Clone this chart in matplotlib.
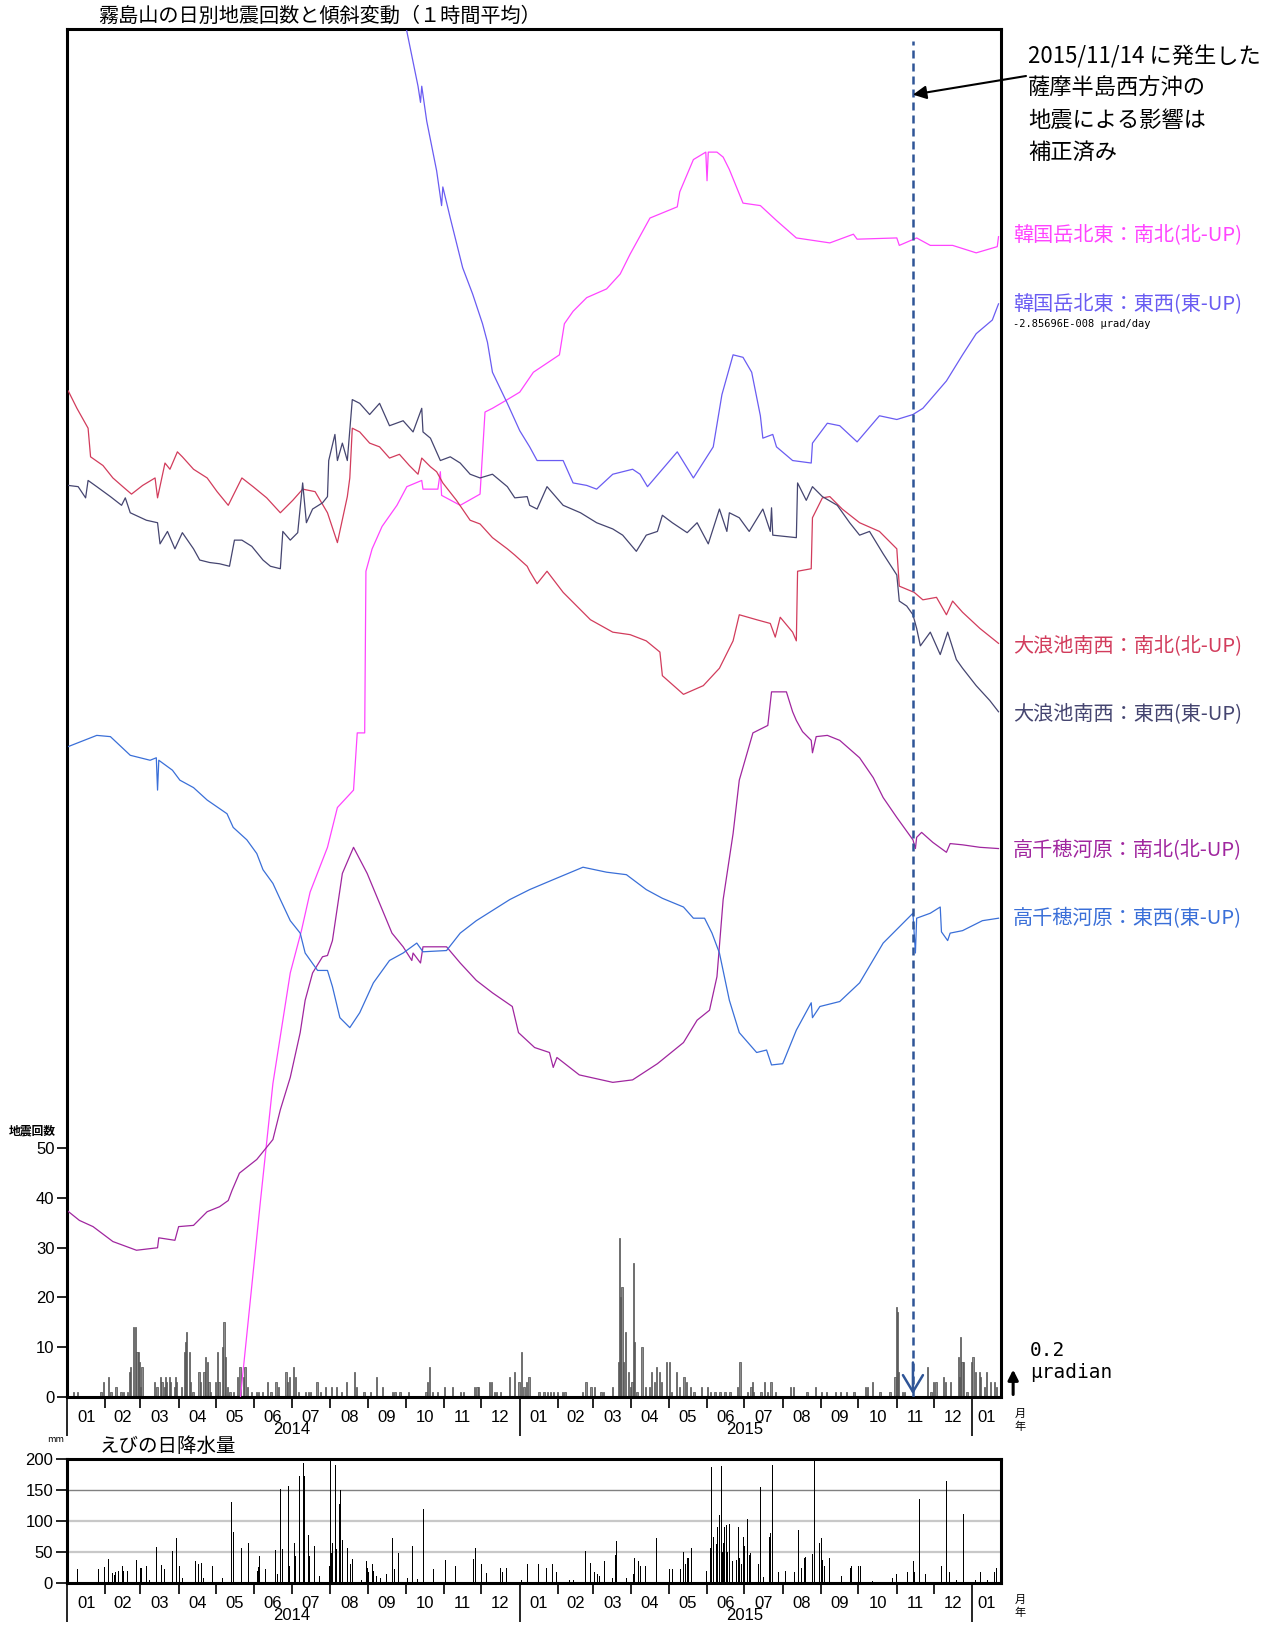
import numpy as np
import matplotlib
matplotlib.use("Agg")
import matplotlib.pyplot as plt
from matplotlib import font_manager

plt.rcParams['font.family'] = ['Noto Sans CJK JP', 'DejaVu Sans']
_names = {f.name for f in font_manager.fontManager.ttflist}
NUM_FONT = 'Liberation Sans Narrow' if 'Liberation Sans Narrow' in _names else 'Liberation Sans'
MONO = 'DejaVu Sans Mono'

# ----- Data (x = days since 2014-01-01, tilt in micro-radian) -----
karakuni_ns = np.array([
    (138, -0.18), (156, 1.58), (166, 2.52), (180, 3.41), (189, 3.75), (196, 4.06), (210, 4.42),
    (218, 4.74), (231, 4.88), (234, 5.34), (240, 5.34), (241, 6.64), (246, 6.82), (254, 7.00),
    (266, 7.17), (274, 7.32), (286, 7.37), (287, 7.30), (299, 7.30), (301, 7.44), (302, 7.25),
    (317, 7.17), (333, 7.26), (337, 7.92), (343, 7.95), (355, 8.02), (365, 8.08), (376, 8.24),
    (397, 8.38), (401, 8.63), (408, 8.73), (419, 8.84), (435, 8.91), (446, 9.03), (454, 9.19),
    (470, 9.48), (492, 9.57), (494, 9.69), (505, 9.95), (515, 10.01), (516, 9.78), (517, 10.01),
    (524, 10.01), (529, 9.97), (534, 9.87), (545, 9.60), (559, 9.58), (572, 9.46), (588, 9.32),
    (615, 9.28), (634, 9.35), (637, 9.31), (669, 9.32), (671, 9.26), (685, 9.32), (696, 9.26),
    (714, 9.26), (733, 9.20), (750, 9.25), (751, 9.33)])

karakuni_ew = np.array([
    (271, 11.15), (274, 10.98), (283, 10.54), (285, 10.41), (286, 10.54), (290, 10.26), (298, 9.86),
    (302, 9.58), (303, 9.73), (309, 9.48), (319, 9.08), (327, 8.87), (335, 8.63), (339, 8.48),
    (343, 8.24), (355, 7.99), (365, 7.77), (373, 7.64), (379, 7.53), (400, 7.53), (408, 7.35),
    (419, 7.33), (427, 7.30), (440, 7.42), (456, 7.46), (462, 7.42), (468, 7.32), (492, 7.60),
    (505, 7.39), (521, 7.64), (528, 8.06), (537, 8.38), (545, 8.36), (552, 8.24), (559, 7.89),
    (561, 7.71), (569, 7.74), (572, 7.64), (585, 7.53), (600, 7.51), (601, 7.67), (613, 7.83),
    (623, 7.81), (637, 7.68), (655, 7.89), (669, 7.86), (682, 7.90), (690, 7.95), (709, 8.17),
    (722, 8.38), (733, 8.55), (746, 8.66), (751, 8.79)])

ohnami_ns = np.array([
    (1, 8.09), (8, 7.95), (17, 7.79), (19, 7.56), (29, 7.49), (37, 7.39), (45, 7.32), (52, 7.26),
    (61, 7.33), (71, 7.39), (73, 7.23), (79, 7.51), (83, 7.46), (89, 7.60), (93, 7.56), (102, 7.46),
    (113, 7.39), (121, 7.28), (130, 7.17), (141, 7.39), (150, 7.32), (161, 7.23), (172, 7.11),
    (182, 7.21), (190, 7.30), (200, 7.28), (210, 7.11), (218, 6.87), (226, 7.24), (228, 7.39),
    (230, 7.79), (236, 7.76), (244, 7.67), (252, 7.64), (260, 7.55), (268, 7.58), (276, 7.49),
    (283, 7.42), (286, 7.55), (293, 7.48), (298, 7.44), (303, 7.35), (314, 7.21), (325, 7.05),
    (333, 7.02), (343, 6.91), (355, 6.82), (361, 6.77), (371, 6.68), (373, 6.64), (379, 6.54),
    (387, 6.64), (400, 6.47), (422, 6.25), (440, 6.15), (454, 6.13), (467, 6.08), (478, 5.99),
    (480, 5.80), (497, 5.65), (513, 5.72), (526, 5.86), (537, 6.08), (542, 6.29), (556, 6.25),
    (567, 6.22), (571, 6.11), (575, 6.27), (585, 6.15), (588, 6.08), (589, 6.64), (600, 6.66),
    (601, 7.07), (609, 7.23), (615, 7.24), (625, 7.14), (639, 7.03), (655, 6.96), (669, 6.82),
    (671, 6.52), (683, 6.47), (690, 6.41), (701, 6.43), (709, 6.29), (714, 6.40), (722, 6.31),
    (736, 6.18), (751, 6.06)])

ohnami_ew = np.array([
    (1, 7.33), (9, 7.32), (15, 7.23), (17, 7.37), (24, 7.32), (35, 7.24), (44, 7.17), (47, 7.23),
    (51, 7.11), (64, 7.05), (73, 7.03), (75, 6.86), (81, 6.96), (87, 6.82), (93, 6.95), (102, 6.82),
    (107, 6.73), (115, 6.71), (123, 6.70), (131, 6.68), (135, 6.89), (141, 6.89), (149, 6.84),
    (158, 6.73), (164, 6.68), (172, 6.66), (174, 6.96), (180, 6.89), (186, 6.95), (190, 7.35),
    (193, 7.03), (198, 7.14), (206, 7.19), (210, 7.24), (211, 7.53), (216, 7.74), (218, 7.53),
    (222, 7.67), (226, 7.53), (230, 8.02), (236, 7.99), (244, 7.90), (252, 7.99), (260, 7.81),
    (271, 7.85), (279, 7.76), (286, 7.95), (287, 7.76), (293, 7.71), (301, 7.53), (309, 7.56),
    (317, 7.51), (325, 7.42), (333, 7.39), (343, 7.42), (355, 7.32), (361, 7.23), (371, 7.24),
    (373, 7.17), (379, 7.14), (387, 7.32), (400, 7.17), (414, 7.11), (427, 7.03), (440, 6.98),
    (448, 6.93), (459, 6.80), (467, 6.93), (476, 6.96), (480, 7.09), (488, 7.03), (500, 6.95),
    (508, 7.03), (517, 6.86), (526, 7.14), (532, 6.96), (534, 7.11), (542, 7.07), (550, 6.96),
    (561, 7.14), (567, 6.96), (568, 7.15), (569, 6.93), (588, 6.91), (589, 7.35), (596, 7.21),
    (601, 7.32), (609, 7.24), (621, 7.17), (631, 7.03), (639, 6.93), (647, 6.96), (658, 6.78),
    (669, 6.61), (671, 6.40), (677, 6.36), (682, 6.29), (685, 6.18), (688, 6.04), (696, 6.15),
    (704, 5.97), (710, 6.15), (717, 5.93), (722, 5.86), (733, 5.72), (744, 5.60), (751, 5.51)])

takachiho_ns = np.array([
    (0, 1.50), (10, 1.42), (21, 1.37), (37, 1.25), (56, 1.18), (73, 1.20), (74, 1.28), (87, 1.26),
    (90, 1.37), (102, 1.38), (113, 1.49), (123, 1.53), (130, 1.58), (133, 1.66), (139, 1.80),
    (153, 1.91), (166, 2.07), (172, 2.31), (180, 2.57), (188, 2.93), (192, 3.19), (198, 3.41),
    (206, 3.54), (210, 3.55), (214, 3.67), (218, 3.94), (222, 4.21), (231, 4.42), (242, 4.21),
    (252, 3.97), (262, 3.73), (271, 3.62), (278, 3.51), (279, 3.57), (285, 3.49), (287, 3.62),
    (306, 3.62), (317, 3.49), (330, 3.35), (343, 3.25), (359, 3.14), (364, 2.93), (377, 2.81),
    (389, 2.77), (392, 2.65), (395, 2.73), (413, 2.59), (440, 2.53), (456, 2.55), (476, 2.68),
    (497, 2.85), (508, 3.03), (518, 3.11), (524, 3.38), (529, 4.00), (537, 4.53), (542, 4.96),
    (553, 5.34), (565, 5.40), (568, 5.67), (580, 5.67), (585, 5.51), (588, 5.44), (593, 5.35),
    (600, 5.28), (601, 5.18), (604, 5.31), (613, 5.32), (623, 5.28), (639, 5.14), (650, 4.98),
    (658, 4.82), (669, 4.66), (682, 4.48), (684, 4.41), (685, 4.50), (689, 4.54), (698, 4.46),
    (709, 4.38), (712, 4.45), (722, 4.44), (736, 4.42), (751, 4.41)])

takachiho_ew = np.array([
    (1, 5.23), (24, 5.32), (35, 5.31), (51, 5.16), (67, 5.12), (72, 5.14), (73, 4.88), (74, 5.12),
    (85, 5.04), (91, 4.96), (102, 4.90), (113, 4.80), (129, 4.69), (134, 4.58), (145, 4.48),
    (153, 4.37), (158, 4.24), (166, 4.13), (172, 4.00), (180, 3.83), (188, 3.73), (192, 3.57),
    (202, 3.43), (210, 3.43), (214, 3.30), (220, 3.05), (228, 2.97), (236, 3.09), (247, 3.33),
    (260, 3.51), (271, 3.57), (282, 3.65), (287, 3.58), (306, 3.59), (317, 3.73), (330, 3.83),
    (357, 4.00), (373, 4.08), (392, 4.16), (416, 4.26), (435, 4.22), (451, 4.20), (467, 4.08),
    (480, 4.01), (497, 3.94), (505, 3.85), (514, 3.85), (520, 3.73), (526, 3.57), (534, 3.19),
    (542, 2.93), (556, 2.77), (564, 2.79), (568, 2.67), (577, 2.68), (588, 2.95), (600, 3.17),
    (601, 3.05), (607, 3.14), (623, 3.18), (639, 3.33), (658, 3.65), (671, 3.78), (682, 3.89),
    (684, 3.57), (685, 3.85), (696, 3.89), (704, 3.94), (705, 3.74), (710, 3.67), (712, 3.73),
    (722, 3.75), (738, 3.83), (751, 3.85)])

# daily earthquake counts (days without an entry had none)
quake_days = [
    5, 8, 27, 29, 33, 35, 39, 43, 45, 48, 50, 51, 53, 55, 56, 57, 58, 59, 60, 70, 72, 75, 76, 78,
    79, 80, 82, 83, 86, 87, 88, 92, 94, 95, 96, 98, 99, 101, 106, 107, 110, 111, 113, 114, 115,
    119, 121, 122, 125, 126, 127, 129, 131, 134, 137, 139, 142, 143, 145, 148, 152, 154, 157,
    161, 164, 168, 170, 176, 177, 179, 182, 184, 186, 192, 194, 196, 201, 204, 208, 213, 217,
    221, 225, 231, 233, 239, 244, 249, 254, 262, 264, 268, 275, 289, 290, 292, 294, 298, 304,
    310, 317, 319, 328, 330, 331, 340, 342, 344, 346, 349, 356, 360, 364, 366, 368, 370, 372,
    380, 384, 387, 389, 392, 395, 399, 401, 415, 418, 422, 425, 430, 432, 439, 444, 445, 446,
    447, 448, 450, 452, 454, 455, 456, 457, 459, 463, 466, 469, 471, 473, 475, 477, 479, 483,
    485, 487, 491, 493, 497, 499, 502, 505, 511, 516, 518, 522, 526, 530, 534, 540, 542, 548,
    551, 552, 553, 559, 562, 564, 567, 571, 583, 585, 596, 603, 608, 612, 619, 623, 628, 634,
    643, 645, 649, 655, 663, 667, 668, 669, 670, 673, 675, 693, 696, 698, 700, 706, 708, 712,
    718, 719, 720, 721, 722, 725, 729, 730, 732, 735, 736, 739, 741, 744, 747, 749]
quake_counts = [
    1, 1, 1, 3, 4, 1, 2, 1, 1, 1, 5, 6, 14, 14, 9, 9, 7, 2, 6, 3, 2, 4, 3, 2,
    4, 3, 4, 3, 2, 4, 3, 2, 9, 11, 13, 9, 3, 1, 5, 3, 5, 8, 7, 3, 1,
    3, 9, 3, 10, 15, 8, 2, 1, 1, 4, 6, 4, 6, 2, 1, 1, 1, 1,
    3, 1, 3, 2, 5, 3, 4, 6, 4, 1, 1, 1, 1, 3, 1, 2, 2, 2,
    1, 3, 5, 2, 1, 1, 4, 2, 1, 1, 1, 1, 1, 3, 6, 1, 1, 2,
    2, 1, 1, 2, 2, 2, 3, 3, 1, 1, 1, 4, 5, 3, 9, 2, 3, 4,
    1, 1, 1, 1, 1, 1, 1, 1, 1, 3, 2, 2, 1, 1, 2, 7, 32, 20,
    22, 7, 13, 5, 2, 3, 27, 11, 1, 10, 2, 2, 5, 3, 6, 5, 3, 7,
    7, 1, 5, 2, 4, 3, 2, 1, 2, 2, 1, 1, 1, 1, 1, 2, 7, 1,
    2, 3, 1, 1, 3, 1, 3, 1, 2, 2, 1, 2, 1, 1, 1, 1, 1, 1,
    2, 2, 3, 1, 1, 4, 18, 17, 5, 1, 1, 6, 1, 3, 3, 4, 3, 3,
    8, 4, 12, 7, 7, 1, 7, 8, 5, 5, 4, 2, 5, 3, 3, 2]

# daily precipitation at Ebino (mm)
rain_days = [
    8, 20, 25, 30, 33, 36, 38, 39, 41, 44, 45, 48, 56, 59, 60, 64, 66, 72, 76, 78, 85, 88, 90, 93,
    103, 106, 108, 110, 117, 125, 132, 134, 140, 146, 153, 154, 155, 160, 168, 169, 172, 173,
    178, 179, 183, 184, 187, 190, 191, 194, 195, 199, 203, 211, 212, 213, 214, 216, 217, 219,
    220, 222, 226, 228, 230, 237, 241, 242, 243, 246, 247, 249, 252, 257, 262, 264, 267, 274,
    278, 282, 285, 287, 295, 305, 313, 327, 329, 334, 338, 349, 351, 354, 366, 371, 380, 386,
    391, 394, 405, 408, 418, 422, 425, 427, 429, 433, 439, 442, 443, 451, 456, 457, 460, 462,
    466, 475, 485, 488, 494, 497, 498, 500, 501, 503, 515, 518, 519, 521, 523, 524, 526, 527,
    528, 529, 530, 531, 532, 534, 536, 539, 541, 542, 543, 545, 546, 548, 550, 551, 557, 559,
    561, 566, 567, 568, 573, 579, 586, 589, 592, 594, 595, 601, 602, 606, 608, 609, 610, 614,
    624, 631, 632, 638, 639, 649, 665, 668, 677, 682, 683, 687, 692, 701, 705, 709, 711, 717,
    722, 732, 736, 742, 747, 749]
rain_mm = [
    23, 2, 23, 26, 38, 16, 13, 18, 20, 28, 20, 19, 37, 25, 24, 28, 5, 58, 29, 22, 52, 73, 27, 8,
    36, 30, 32, 8, 27, 8, 131, 83, 56, 64, 20, 26, 43, 22, 54, 15, 151, 55,
    157, 28, 65, 44, 172, 193, 172, 78, 44, 60, 12, 27, 210, 48, 65, 190, 55, 128,
    150, 70, 57, 30, 38, 5, 35, 25, 18, 30, 20, 12, 8, 14, 73, 22, 48, 8,
    60, 6, 197, 120, 22, 37, 28, 38, 56, 30, 16, 24, 18, 24, 5, 30, 30, 24,
    31, 18, 5, 5, 51, 32, 18, 14, 12, 35, 8, 45, 68, 8, 15, 40, 36, 27,
    28, 73, 23, 22, 23, 50, 30, 40, 40, 56, 20, 57, 187, 75, 63, 90, 110, 188,
    50, 65, 90, 93, 50, 95, 35, 37, 90, 40, 30, 75, 60, 103, 45, 48, 30, 155,
    10, 75, 80, 190, 18, 20, 18, 86, 25, 40, 42, 47, 210, 65, 72, 37, 28, 40,
    12, 25, 27, 28, 27, 3, 8, 15, 17, 35, 18, 135, 15, 33, 28, 164, 18, 5,
    111, 5, 17, 5, 17, 24]

series = [
    (karakuni_ns, '韓国岳北東：南北(北-UP)', '#ff44ff', 235),
    (karakuni_ew, '韓国岳北東：東西(東-UP)', '#6a5cf2', 304),
    (ohnami_ns, '大浪池南西：南北(北-UP)', '#d23c5c', 646),
    (ohnami_ew, '大浪池南西：東西(東-UP)', '#454570', 714),
    (takachiho_ns, '高千穂河原：南北(北-UP)', '#a0269f', 851),
    (takachiho_ew, '高千穂河原：東西(東-UP)', '#3a6fd8', 919),
]

quake_day = 682          # 2015-11-14
x_end = 753              # last day shown
tilt_top = 11.0          # micro-radian span of the tilt axis
count_top = 274.7

# ----- Figure -----
W, H = 1285, 1625
fig = plt.figure(figsize=(W / 100, H / 100), dpi=100)


def box(l, t, r, b):
    return [l / W, 1 - b / H, (r - l) / W, (b - t) / H]


def ftext(x, y, s, **kw):
    fig.text(x / W, 1 - y / H, s, **kw)


month_starts = np.arange('2014-01', '2016-02', dtype='datetime64[M]')
month_days = (month_starts.astype('datetime64[D]') - np.datetime64('2014-01-01')).astype(int)
month_ends = np.append(month_days[1:], x_end)
year_days = [d for d, m in zip(month_days, month_starts) if str(m).endswith('-01')]
minor_days = [d for d in month_days if d not in year_days]


def month_axis(a, lab_off, year_off):
    a.set_xlim(0, x_end)
    a.set_xticks(year_days)
    a.set_xticks(minor_days, minor=True)
    a.set_xticklabels([])
    a.tick_params(axis='x', which='major', direction='out', length=28, width=1.2)
    a.tick_params(axis='x', which='minor', direction='out', length=8, width=1.2)
    for d0, d1, m in zip(month_days, month_ends, month_starts):
        mid = (d0 + min(d1, x_end)) / 2
        a.annotate(str(m)[5:7], xy=(mid, 0), xycoords=('data', 'axes fraction'),
                   xytext=(0, lab_off), textcoords='offset pixels', ha='center', va='center',
                   fontsize=12, family=NUM_FONT)
    for yr, d in (('2014', 181), ('2015', 546)):
        a.annotate(yr, xy=(d, 0), xycoords=('data', 'axes fraction'),
                   xytext=(0, year_off), textcoords='offset pixels', ha='center', va='center',
                   fontsize=12, family=NUM_FONT)
    a.annotate('月', xy=(1, 0), xycoords='axes fraction', xytext=(19, lab_off + 3),
               textcoords='offset pixels', ha='center', va='center', fontsize=8)
    a.annotate('年', xy=(1, 0), xycoords='axes fraction', xytext=(19, lab_off - 10),
               textcoords='offset pixels', ha='center', va='center', fontsize=8)


# ----- Earthquake counts + tilt -----
ax = fig.add_axes(box(67, 29, 1001, 1397))
ax.bar(quake_days, quake_counts, width=1.0, align='edge', color='#8c8c8c',
       edgecolor='#4d4d4d', linewidth=0.5)
ax.set_ylim(0, count_top)
ax.set_yticks(range(0, 51, 10))
ax.tick_params(axis='y', direction='out', length=7, width=1.2, labelsize=12,
               labelfontfamily=NUM_FONT, pad=2)
for s in ax.spines.values():
    s.set_linewidth(2.2)
month_axis(ax, -20, -33)

ax2 = ax.twinx()
ax2.set_ylim(0, tilt_top)
ax2.set_yticks([])
for data, label, color, ylab in series:
    ax2.plot(data[:, 0], data[:, 1], color=color, lw=0.9)
    ftext(1013, ylab, label, color=color, fontsize=14.5, va='center', ha='left')
ftext(1013, 324, '-2.85696E-008 μrad/day', fontsize=7.5, family=MONO, va='center')

# earthquake marker line and note
ax2.axvline(quake_day, ymin=0, ymax=0.991, color='#2f5597', lw=1.8, ls=(0, (3.2, 2.0)))
ax2.annotate('', xy=(quake_day, 0), xytext=(quake_day, 0.3),
             arrowprops=dict(arrowstyle='->,head_length=1.0,head_width=0.6',
                             color='#2f5597', lw=1.8, mutation_scale=12))
ax2.annotate('', xy=(quake_day, 0.952), xycoords=('data', 'axes fraction'),
             xytext=(1026, H - 76), textcoords='figure pixels',
             arrowprops=dict(arrowstyle='-|>', color='black', lw=1.5, mutation_scale=20,
                             shrinkA=0, shrinkB=0))
note = ['2015/11/14 に発生した', '薩摩半島西方沖の', '地震による影響は', '補正済み']
for i, line in enumerate(note):
    ftext(1028, 57 + i * 31.7, line, fontsize=16, va='center')

# 0.2 micro-radian scale
ax2.annotate('', xy=(1.013, 0.22), xycoords=('axes fraction', 'data'),
             xytext=(1.013, 0.02), textcoords=('axes fraction', 'data'),
             arrowprops=dict(arrowstyle='-|>,head_length=0.5,head_width=0.25', color='black',
                             lw=2.2, mutation_scale=12, shrinkA=0, shrinkB=0))
ftext(1030, 1350, '0.2', fontsize=14, family=MONO, va='center')
ftext(1030, 1373, 'μradian', fontsize=14, family=MONO, va='center')

ftext(98, 16, '霧島山の日別地震回数と傾斜変動（１時間平均）', fontsize=14.5, va='center')
ftext(9, 1131, '地震回数', fontsize=8.5, va='center', weight='bold')

# ----- Precipitation -----
axr = fig.add_axes(box(67, 1459, 1001, 1583))
for lvl, col, lw in ((50, '#c8c8c8', 1.6), (100, '#c8c8c8', 1.6), (150, '#808080', 1.0)):
    axr.axhline(lvl, color=col, lw=lw, zorder=0)
axr.bar(rain_days, rain_mm, width=0.8, align='edge', color='black', linewidth=0)
axr.set_ylim(0, 200)
axr.set_yticks(range(0, 201, 50))
axr.tick_params(axis='y', direction='out', length=8, width=1.2, labelsize=12,
                labelfontfamily=NUM_FONT, pad=2)
for s in axr.spines.values():
    s.set_linewidth(2.2)
month_axis(axr, -20, -32)
ftext(100, 1446, 'えびの日降水量', fontsize=14, va='center')
ftext(47, 1440, 'mm', fontsize=6.5, va='center')

fig.savefig('out.png', dpi=100)
